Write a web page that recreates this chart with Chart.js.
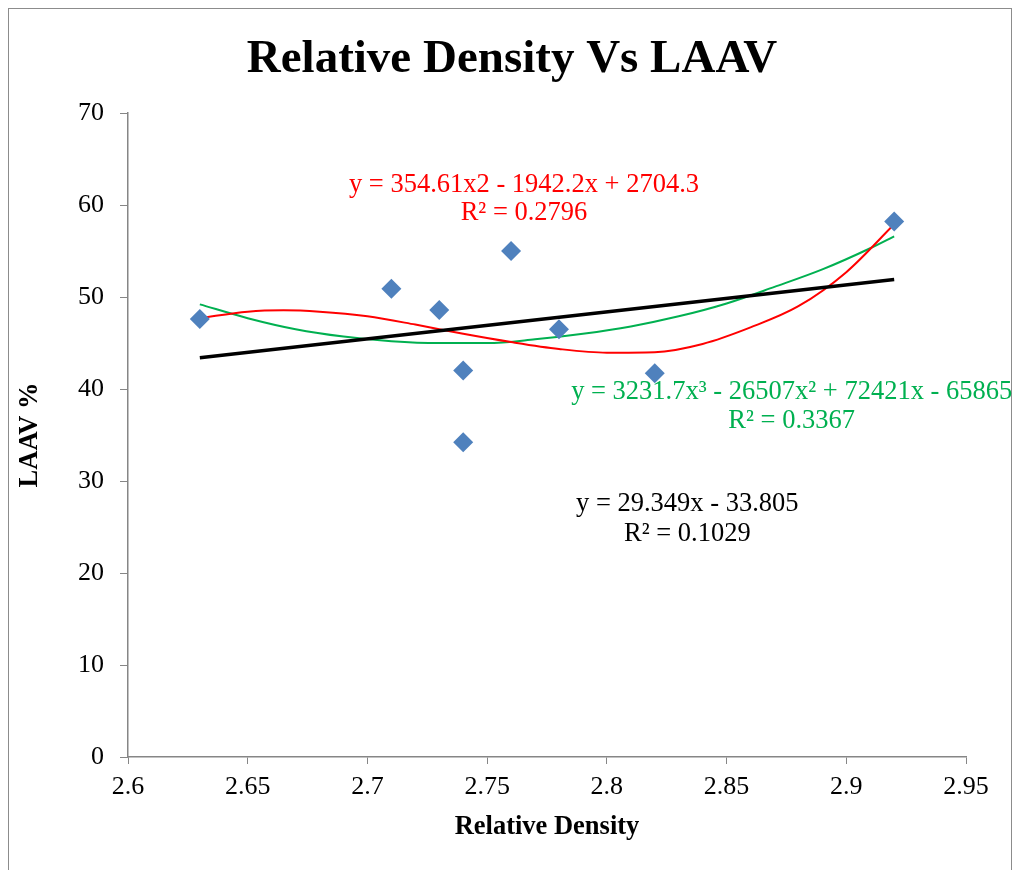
<!DOCTYPE html>
<html>
<head>
<meta charset="utf-8">
<script src="https://cdn.jsdelivr.net/npm/chart.js@4.4.0/dist/chart.umd.min.js"></script>
<style>
    html, body { margin: 0; padding: 0; background: #ffffff; }
    #wrap { position: relative; width: 1014px; height: 870px; }
    #frame { position: absolute; left: 8px; top: 8px; width: 1004px; height: 870px; border-left: 1px solid #8c8c8c; border-top: 1px solid #8c8c8c; border-right: 1px solid #8c8c8c; box-sizing: border-box; }
    canvas { position: absolute; left: 0; top: 0; }
</style>
</head>
<body>
<div id="wrap">
    <div id="frame"></div>
    <canvas id="densityChart" width="1014" height="870"></canvas>
</div>
<script>
// measured points
const density = [2.63, 2.71, 2.73, 2.74, 2.74, 2.76, 2.78, 2.82, 2.92];
const laav = [47.6, 50.9, 48.6, 42.0, 34.2, 55.0, 46.5, 41.7, 58.2];

// trendlines
const linearX = [2.63, 2.92];
const linearY = [43.4, 51.9];

const redX = [2.63, 2.65, 2.665, 2.68, 2.70, 2.72, 2.74, 2.76, 2.78, 2.80, 2.82, 2.84, 2.86, 2.88, 2.90, 2.92];
const redY = [47.7, 48.4, 48.55, 48.4, 47.9, 47.0, 46.0, 45.1, 44.35, 43.95, 44.0, 44.9, 46.7, 49.0, 52.7, 57.9];

const greenX = [2.63, 2.65, 2.67, 2.69, 2.71, 2.73, 2.75, 2.77, 2.79, 2.81, 2.83, 2.85, 2.87, 2.89, 2.91, 2.92];
const greenY = [49.2, 47.7, 46.5, 45.7, 45.2, 45.0, 45.0, 45.4, 46.0, 46.8, 47.9, 49.3, 51.1, 53.0, 55.3, 56.6];

const xTicks = [2.6, 2.65, 2.7, 2.75, 2.8, 2.85, 2.9, 2.95];
const yTicks = [0, 10, 20, 30, 40, 50, 60, 70];

const toPoints = (xs, ys) => xs.map((x, i) => ({ x: x, y: ys[i] }));

const serif = '"Liberation Serif", "Times New Roman", serif';

// title + equations written on the plot
const equationLabels = {
    id: 'equationLabels',
    afterDraw(chart) {
        const ctx = chart.ctx;
        const xs = chart.scales.x, ys = chart.scales.y;
        const lines = [
            { text: 'y = 354.61x2 - 1942.2x + 2704.3', x: 2.7654, y: 62.15, color: '#ff0000' },
            { text: 'R² = 0.2796', x: 2.7654, y: 59.15, color: '#ff0000' },
            { text: 'y = 3231.7x³ - 26507x² + 72421x - 65865', x: 2.8772, y: 39.7, color: '#00b050' },
            { text: 'R² = 0.3367', x: 2.8772, y: 36.5, color: '#00b050' },
            { text: 'y = 29.349x - 33.805', x: 2.8336, y: 27.5, color: '#000000' },
            { text: 'R² = 0.1029', x: 2.8336, y: 24.2, color: '#000000' },
        ];
        ctx.save();
        ctx.font = '26.5px ' + serif;
        ctx.textAlign = 'center';
        ctx.textBaseline = 'middle';
        lines.forEach(l => {
            ctx.fillStyle = l.color;
            ctx.fillText(l.text, xs.getPixelForValue(l.x), ys.getPixelForValue(l.y));
        });
        ctx.font = 'bold 47px ' + serif;
        ctx.fillStyle = '#000000';
        ctx.textBaseline = 'alphabetic';
        ctx.fillText('Relative Density Vs LAAV', 512, 72);
        ctx.restore();
    }
};

new Chart(document.getElementById('densityChart'), {
    type: 'scatter',
    data: {
        datasets: [{
            label: 'LAAV',
            data: toPoints(density, laav),
            pointStyle: 'rectRot',
            pointRadius: 10,
            pointHoverRadius: 10,
            backgroundColor: '#4f81bd',
            borderColor: '#4f81bd',
            borderWidth: 0,
            order: 0,
        }, {
            type: 'line',
            label: 'Poly 2',
            data: toPoints(redX, redY),
            borderColor: '#ff0000',
            borderWidth: 2,
            pointRadius: 0,
            fill: false,
            cubicInterpolationMode: 'monotone',
            order: 2,
        }, {
            type: 'line',
            label: 'Poly 3',
            data: toPoints(greenX, greenY),
            borderColor: '#00b050',
            borderWidth: 2,
            pointRadius: 0,
            fill: false,
            cubicInterpolationMode: 'monotone',
            order: 3,
        }, {
            type: 'line',
            label: 'Linear',
            data: toPoints(linearX, linearY),
            borderColor: '#000000',
            borderWidth: 3.5,
            pointRadius: 0,
            fill: false,
            order: 1,
        }]
    },
    options: {
        responsive: false,
        animation: false,
        layout: { padding: { left: 0, right: 48, top: 113, bottom: 0 } },
        plugins: {
            legend: { display: false },
            tooltip: { enabled: false },
            title: { display: false }
        },
        scales: {
            x: {
                type: 'linear',
                min: 2.6,
                max: 2.95,
                afterBuildTicks: s => { s.ticks = xTicks.map(v => ({ value: v })); },
                afterFit: s => { s.height = 113; },
                ticks: {
                    color: '#000000',
                    font: { family: serif, size: 26 },
                    padding: 8,
                    maxRotation: 0,
                    callback: v => String(v)
                },
                grid: { display: true, drawOnChartArea: false, drawTicks: true, tickLength: 7, color: '#868686' },
                border: { display: true, color: '#868686', width: 1.5 },
                title: {
                    display: true,
                    text: 'Relative Density',
                    color: '#000000',
                    font: { family: serif, size: 26.5, weight: 'bold' },
                    padding: { top: 4, bottom: 27 }
                }
            },
            y: {
                min: 0,
                max: 70,
                afterBuildTicks: s => { s.ticks = yTicks.map(v => ({ value: v })); },
                afterFit: s => { s.width = 128; },
                ticks: {
                    color: '#000000',
                    font: { family: serif, size: 26 },
                    padding: 16
                },
                grid: { display: true, drawOnChartArea: false, drawTicks: true, tickLength: 8, color: '#868686' },
                border: { display: true, color: '#868686', width: 1.5 },
                title: {
                    display: true,
                    text: 'LAAV %',
                    color: '#000000',
                    font: { family: serif, size: 26.5, weight: 'bold' },
                    padding: { top: 14, bottom: 4 }
                }
            }
        }
    },
    plugins: [equationLabels]
});
</script>
</body>
</html>
